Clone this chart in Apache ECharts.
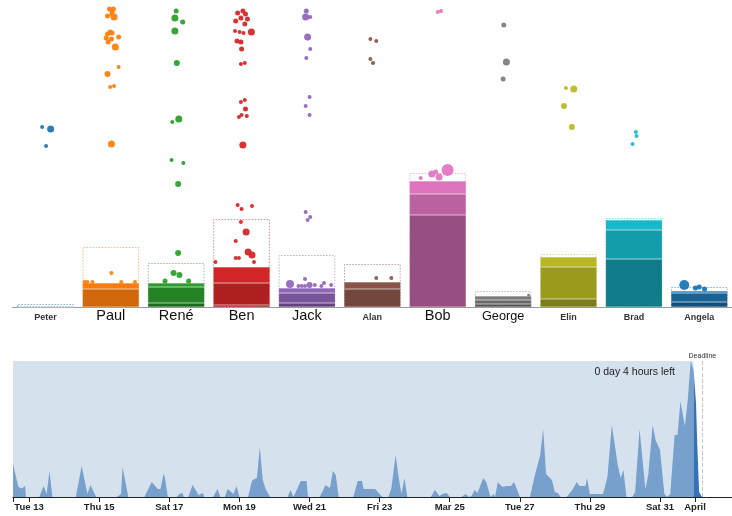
<!DOCTYPE html>
<html>
<head>
<meta charset="utf-8">
<script src="https://cdn.jsdelivr.net/npm/echarts@6/dist/echarts.min.js"></script>
<style>
  html, body { margin: 0; padding: 0; background: #fff; }
  #chart { width: 732px; height: 516px; }
</style>
</head>
<body>
<div id="chart"></div>
<script>
// ---- team progress (upper panel) ----
const people   = ['Peter', 'Paul', 'René', 'Ben', 'Jack', 'Alan', 'Bob', 'George', 'Elin', 'Brad', 'Angela'];
const doneLow  = [0, 0, 4, 2, 4, 0, 92, 3, 8, 48, 5];
const doneMid  = [0, 18, 16, 22, 10, 18, 21, 4, 32, 29, 9];
const doneHigh = [0, 6, 4, 16, 5, 7, 13, 4, 10, 10, 2];
const targets  = [3, 60, 44, 88, 52, 43, 134, 16, 53, 89, 20];

// open items: [person index, spread within column, score, weight]
const bubbles = [
  [0, -0.05, 180, 2], [0, 0.08, 178, 3.5], [0, 0.01, 161, 2],
  [1, -0.02, 298, 2.5], [1, 0.04, 298, 2.5], [1, 0.02, 295, 2.5], [1, -0.05, 291, 2.5], [1, 0.05, 290, 3.5], [1, 0.01, 293, 2],
  [1, -0.01, 275, 2.5], [1, 0.02, 274, 2.5], [1, -0.05, 273, 2.5], [1, -0.07, 269, 2.5], [1, 0.01, 268, 2.5], [1, -0.04, 265, 2.5],
  [1, 0.12, 270, 2.5], [1, 0.07, 260, 3.5], [1, 0.12, 240, 2], [1, -0.05, 233, 3], [1, -0.01, 220, 2], [1, 0.05, 221, 2],
  [1, 0.01, 163, 3.5], [1, 0.01, 34, 2],
  [1, -0.40, 25, 2], [1, -0.36, 25, 2], [1, -0.28, 25, 2], [1, 0.16, 25, 2], [1, 0.37, 25, 2],
  [2, 0, 296, 2.5], [2, -0.02, 289, 3.5], [2, 0.10, 285, 2.5], [2, -0.02, 276, 3.5], [2, 0.01, 244, 3], [2, 0.04, 188, 3.5],
  [2, -0.06, 185, 2], [2, -0.07, 147, 2], [2, 0.11, 144, 2], [2, 0.03, 123, 3], [2, 0.03, 54, 3], [2, -0.04, 34, 3],
  [2, 0.05, 32, 3], [2, -0.17, 26, 2.5], [2, 0.19, 26, 2.5],
  [3, -0.06, 294, 2.5], [3, 0.02, 296, 2.5], [3, 0.06, 293, 2.5], [3, -0.01, 289, 2.5], [3, -0.09, 286, 2.5], [3, 0.09, 288, 2.5],
  [3, 0.05, 283, 2.5], [3, -0.10, 276, 2], [3, -0.03, 275, 2], [3, 0.03, 274, 2], [3, 0.15, 275, 3.5], [3, -0.07, 266, 2.5],
  [3, -0.01, 265, 2.5], [3, 0, 258, 2.5], [3, -0.01, 243, 2], [3, 0.05, 244, 2], [3, -0.01, 205, 2], [3, 0.05, 207, 2],
  [3, 0.06, 198, 2.5], [3, -0.04, 190, 2], [3, 0, 192, 2], [3, 0.08, 191, 2], [3, 0.02, 162, 3.5],
  [3, -0.06, 102, 2], [3, 0, 98, 2], [3, 0.16, 101, 2], [3, -0.01, 85, 2], [3, 0.07, 75, 3.5], [3, -0.09, 66, 2],
  [3, 0.10, 55, 3.5], [3, 0.16, 52, 3.5], [3, -0.09, 49, 2], [3, -0.04, 49, 2], [3, -0.40, 45, 2], [3, 0.19, 45, 2],
  [4, -0.01, 296, 2.5], [4, 0.05, 290, 2], [4, -0.02, 290, 3.5], [4, 0.01, 270, 3.5], [4, 0.05, 258, 2], [4, -0.01, 249, 2],
  [4, 0.04, 210, 2], [4, -0.02, 201, 2], [4, 0.04, 192, 2], [4, -0.02, 95, 2], [4, 0.05, 90, 2], [4, 0.01, 87, 2],
  [4, -0.03, 28, 2], [4, -0.26, 23, 4], [4, -0.13, 21, 2], [4, -0.08, 21, 2], [4, -0.03, 21, 2], [4, 0.04, 22, 3],
  [4, 0.12, 22, 2], [4, 0.22, 21, 2], [4, 0.26, 24, 2], [4, 0.37, 22, 2],
  [5, -0.03, 268, 2], [5, 0.06, 266, 2], [5, -0.03, 248, 2], [5, 0.01, 244, 2], [5, 0.06, 29, 2], [5, 0.29, 29, 2],
  [6, 0, 295, 2], [6, 0.05, 296, 2], [6, -0.26, 129, 2], [6, -0.09, 133, 3.5], [6, -0.03, 135, 2.5], [6, 0.02, 130, 3.5], [6, 0.15, 137, 6],
  [7, 0.01, 282, 2.5], [7, 0.05, 245, 3.5], [7, 0, 228, 2.5], [7, 0.39, 12, 1.5],
  [8, -0.04, 219, 2], [8, 0.08, 218, 3.5], [8, -0.07, 201, 3], [8, 0.05, 180, 3],
  [9, 0.03, 175, 2], [9, 0.04, 171, 2], [9, -0.02, 163, 2],
  [10, -0.23, 22, 5], [10, -0.06, 19, 2.5], [10, 0, 20, 2.5], [10, 0.08, 18, 2.5]
];

// ---- hourly activity (lower panel), hours counted from Mar 12 00:00 ----
const tickHours  = [24, 72, 120, 168, 216, 264, 312, 360, 408, 456, 480];
const tickLabels = ['Tue 13', 'Thu 15', 'Sat 17', 'Mon 19', 'Wed 21', 'Fri 23', 'Mar 25', 'Tue 27', 'Thu 29', 'Sat 31', 'April'];
const activity = [
  [13, 16.5], [16.7, 5], [19, 4.2], [21.3, 5.5], [21.9, 0], [31, 0], [34, 5.5], [36, 1.5], [38, 13], [40, 0],
  [56, 0], [60, 15.5], [64, 1.5], [66, 6], [70, 0], [84, 0], [87, 1.5], [88, 15], [92, 0],
  [103, 0], [108, 7.5], [112, 4], [114, 4], [116, 11.5], [117, 10], [119, 0],
  [125, 0], [127, 1.5], [129, 2], [130, 0], [133, 0], [136, 6], [140, 1], [143, 2], [144, 0],
  [150, 0], [153, 4], [155, 0], [158, 0], [160, 4], [164, 1.5], [166, 5.5], [168, 0],
  [174, 0], [176, 6.5], [177, 8.5], [180, 9.5], [182, 25], [184, 8.5], [186, 4], [189, 0],
  [201, 0], [203, 3.5], [205, 0], [206, 1.5], [210, 8], [214, 8], [215, 0],
  [223, 0], [227, 6], [230, 4.5], [232, 13], [234, 11], [236, 0],
  [246, 0], [249, 8], [252, 8], [253, 4], [261, 4], [264, 1.5], [266, 0],
  [270, 0], [272, 4], [275, 21], [277, 10], [279, 1.5], [281, 9.5], [283, 0],
  [299, 0], [302, 3.5], [305, 0.5], [307, 1.5], [310, 2], [312, 0],
  [320, 0], [323, 1.5], [325, 0], [327, 0.5], [329, 3.5], [331, 2], [335, 9.5], [337, 7.5], [340, 0],
  [341, 1], [342, 1.5], [343, 0], [345, 7.5], [348, 5], [351, 5.5], [354, 5.5], [356, 7.5], [358, 4], [360, 0],
  [367, 0], [370, 10], [374, 21], [376, 34], [378, 11.5], [382, 8.5], [384, 2.5], [386, 2], [388, 0],
  [392, 0], [396, 3.5], [399, 7.5], [401, 5.5], [405, 5.5], [406, 9.5], [408, 1.5], [417, 1.5],
  [420, 10], [423, 36], [427, 16.5], [429, 9.5], [431, 13.5], [433, 0],
  [437, 0], [439, 2.5], [442, 34], [446, 4], [448, 11.5], [451, 36], [453, 28.5], [456, 23.5], [459, 1.5], [461, 0],
  [463, 1.5], [466, 31], [468, 31], [470, 48], [473, 35.5], [475, 48.5], [477, 68], [479, 63.5],
  [480.7, 46.5], [481.4, 28.5], [482.8, 2.5], [484.8, 0]
];
const startHour = 13;
const nowHour = 479;
const deadlineHour = 485;
const activityMax = 68;
const timeLeft = '0 day 4 hours left';

// ---- styling ----
const palette = ['#1f77b4', '#ff7f0e', '#2ca02c', '#d62728', '#9467bd', '#8c564b',
                 '#e377c2', '#7f7f7f', '#bcbd22', '#17becf', '#1f77b4'];
const nameStyle = [
  { fontSize: 9, fontWeight: 'bold', color: '#333', lineHeight: 14.7 },
  { fontSize: 14.5, color: '#111', lineHeight: 11 },
  { fontSize: 14.5, color: '#111', lineHeight: 11 },
  { fontSize: 14.5, color: '#111', lineHeight: 11 },
  { fontSize: 14.5, color: '#111', lineHeight: 11 },
  { fontSize: 9, fontWeight: 'bold', color: '#333', lineHeight: 14.7 },
  { fontSize: 14.5, color: '#111', lineHeight: 11 },
  { fontSize: 12.7, color: '#111', lineHeight: 12.1 },
  { fontSize: 9, fontWeight: 'bold', color: '#333', lineHeight: 14.7 },
  { fontSize: 9, fontWeight: 'bold', color: '#333', lineHeight: 14.7 },
  { fontSize: 9, fontWeight: 'bold', color: '#333', lineHeight: 14.7 }
];
const FONT = '"Liberation Sans", Arial, Helvetica, sans-serif';

function shade(hex, k) {
  const n = parseInt(hex.slice(1), 16);
  const r = Math.round(((n >> 16) & 255) * k);
  const g = Math.round(((n >> 8) & 255) * k);
  const b = Math.round((n & 255) * k);
  return `rgb(${r},${g},${b})`;
}
function fade(hex, a) {
  const n = parseInt(hex.slice(1), 16);
  return `rgba(${(n >> 16) & 255},${(n >> 8) & 255},${n & 255},${a})`;
}

const BAR_W = 56.7;
function stackSeries(name, values, k) {
  return {
    name, type: 'bar', stack: 'done', xAxisIndex: 0, yAxisIndex: 0,
    barWidth: BAR_W, barGap: '-100%', z: 3,
    data: values.map((v, i) => ({
      value: v,
      itemStyle: { color: shade(palette[i], k), borderColor: 'rgba(255,255,255,0.18)', borderWidth: 0.6 }
    }))
  };
}

const rich = {};
nameStyle.forEach((s, i) => { rich['n' + i] = Object.assign({ fontFamily: FONT }, s); });

const chart = echarts.init(document.getElementById('chart'), null, { renderer: 'canvas' });
chart.setOption({
  animation: false,
  backgroundColor: '#ffffff',
  textStyle: { fontFamily: FONT },
  title: {
    text: timeLeft, right: 52, top: 362,
    textStyle: { fontSize: 10.5, fontWeight: 'normal', color: '#222', fontFamily: FONT }
  },
  grid: [
    { left: 12.7, width: 723.3, top: 9, height: 298 },
    { left: 13, width: 719, top: 361, height: 136 }
  ],
  xAxis: [
    {
      type: 'category', gridIndex: 0, data: people,
      axisLine: { lineStyle: { color: '#9a9a9a', width: 1.2 } },
      axisTick: { show: false },
      axisLabel: {
        interval: 0, margin: 3,
        formatter: (v, i) => `{n${i}|${v}}`,
        rich
      }
    },
    { type: 'value', gridIndex: 0, min: 0, max: people.length, show: false },
    {
      type: 'value', gridIndex: 1, min: startHour, max: 505.3,
      splitLine: { show: false },
      axisLine: { lineStyle: { color: '#222', width: 1 } },
      axisTick: { customValues: [startHour].concat(tickHours), length: 5, lineStyle: { color: '#222' } },
      axisLabel: {
        customValues: tickHours, margin: 5,
        fontSize: 9.5, fontWeight: 'bold', color: '#222', fontFamily: FONT,
        formatter: (v) => { const k = tickHours.indexOf(v); return k >= 0 ? tickLabels[k] : ''; }
      }
    }
  ],
  yAxis: [
    { type: 'value', gridIndex: 0, min: 0, max: 298, show: false },
    { type: 'value', gridIndex: 1, min: 0, max: activityMax, show: false }
  ],
  series: [
    {
      name: 'target', type: 'bar', xAxisIndex: 0, yAxisIndex: 0,
      barWidth: BAR_W, barGap: '-100%', z: 2,
      data: targets.map((v, i) => ({
        value: v,
        itemStyle: { color: 'rgba(255,255,255,0)', borderColor: fade(palette[i], 0.55), borderWidth: 1, borderType: [1.5, 1.5] }
      }))
    },
    stackSeries('low', doneLow, 0.66),
    stackSeries('mid', doneMid, 0.82),
    stackSeries('high', doneHigh, 0.97),
    {
      name: 'items', type: 'scatter', xAxisIndex: 1, yAxisIndex: 0, z: 4,
      symbolSize: (v) => v[2] * 2,
      data: bubbles.map(b => ({
        value: [b[0] + 0.5 + b[1], b[2], b[3]],
        itemStyle: { color: palette[b[0]], opacity: 0.95 }
      }))
    },
    {
      name: 'window', type: 'line', xAxisIndex: 2, yAxisIndex: 1, z: 1,
      symbol: 'none', lineStyle: { width: 0 },
      areaStyle: { color: '#d6e1ee', opacity: 1 },
      data: [[startHour, activityMax], [nowHour, activityMax]]
    },
    {
      name: 'activity', type: 'line', xAxisIndex: 2, yAxisIndex: 1, z: 2,
      symbol: 'none', lineStyle: { width: 0 },
      areaStyle: { color: '#78a0cd', opacity: 1 },
      data: activity.filter(p => p[0] <= nowHour),
      markLine: {
        silent: true, symbol: 'none',
        lineStyle: { color: '#c8c8c8', type: 'dashed', width: 1 },
        label: { formatter: 'Deadline', position: 'end', distance: 1, fontSize: 7, color: '#333', fontFamily: FONT },
        data: [{ xAxis: deadlineHour }]
      }
    },
    {
      name: 'current', type: 'line', xAxisIndex: 2, yAxisIndex: 1, z: 2,
      symbol: 'none', lineStyle: { width: 0 },
      areaStyle: { color: '#3572b8', opacity: 1 },
      data: activity.filter(p => p[0] >= nowHour)
    }
  ]
});
</script>
</body>
</html>
